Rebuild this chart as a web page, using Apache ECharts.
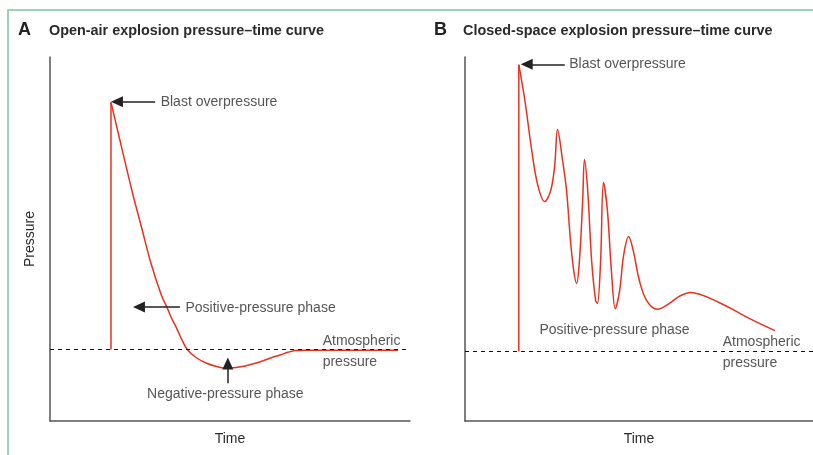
<!DOCTYPE html>
<html>
<head>
<meta charset="utf-8">
<script src="https://cdn.jsdelivr.net/npm/echarts@6/dist/echarts.min.js"></script>
<style>html,body{margin:0;padding:0;background:#fff;}#c{width:813px;height:455px;}</style>
</head>
<body>
<div id="c"></div>
<script>
// ---- Panel A: open-air explosion (time units, pressure relative to atmospheric = 0)
const aSpikeTime = [16.94, 16.94];
const aSpikePressure = [0, 68.58];
const aTime = [16.94, 18.89, 20.83, 23.06, 25.47, 27.94, 30.92, 32.42, 33.61, 35.19, 36.67, 38.14, 40.56, 43.53, 46.31, 49.08, 51.67, 54.17, 56.67, 59.25, 61.67, 63.89, 66.11, 68.06, 70.83, 96.67];
const aPressure = [68.58, 60.34, 52.10, 42.86, 33.70, 24.27, 15.11, 11.86, 9.01, 5.87, 2.62, -0.01, -2.23, -3.84, -4.73, -5.23, -5.01, -4.59, -3.90, -3.12, -2.23, -1.54, -0.79, -0.29, -0.23, -0.23];
const aNoteText = ['Blast overpressure', 'Positive-pressure phase', 'Negative-pressure phase', 'Atmospheric\npressure'];
const aNoteTime = [30.6, 37.5, 48.7, 75.6];
const aNotePressure = [68.5, 11.4, -12.5, -0.6];
const aArrows = [[29.2, 68.7, 18.6, 68.7], [36.1, 11.8, 24.7, 11.8], [49.4, -9.4, 49.4, -3.9]];

// ---- Panel B: closed-space explosion
const bSpikeTime = [15.0, 15.0];
const bSpikePressure = [0, 79.6];
const bTime = [15.0, 16.7, 18.6, 20.3, 22.2, 23.9, 25.0, 25.8, 27.2, 28.3, 29.4, 30.3, 31.1, 31.9, 32.8, 33.3, 34.2, 35.3, 36.4, 36.9, 37.8, 38.6, 39.7, 40.8, 41.9, 43.1, 44.2, 45.6, 46.9, 48.6, 50.6, 53.6, 56.9, 59.7, 62.8, 70.8, 79.2, 86.4];
const bPressure = [79.6, 69.6, 55.8, 46.1, 41.6, 44.7, 51.6, 61.6, 53.0, 44.7, 30.8, 22.5, 18.9, 25.2, 41.9, 53.3, 44.7, 25.2, 14.2, 13.3, 25.2, 46.9, 39.1, 22.5, 11.9, 16.9, 26.6, 31.9, 28.0, 19.7, 14.2, 11.7, 13.3, 15.3, 16.4, 13.6, 9.2, 5.8];
const bNoteText = ['Blast overpressure', 'Positive-pressure phase', 'Atmospheric\npressure'];
const bNoteTime = [28.9, 20.6, 71.7];
const bNotePressure = [79.6, 5.8, -0.3];
const bArrows = [[27.8, 79.7, 17.2, 79.7]];

const titles = [['A', 'Open-air explosion pressure–time curve'], ['B', 'Closed-space explosion pressure–time curve']];
const axisNames = { x: 'Time', y: 'Pressure' };

const RED = '#e8321f';
const FONT = '"Liberation Sans", Arial, sans-serif';
const TXT = '#2b2b2b';

function zip(xs, ys) { return xs.map((x, i) => [x, ys[i]]); }

function axisStyle() {
  return {
    axisLine: { show: true, onZero: false, lineStyle: { color: '#555', width: 1.5 } },
    axisTick: { show: false }, axisLabel: { show: false }, splitLine: { show: false }
  };
}

function notes(texts, ts, ps, centerIdx) {
  return texts.map((t, i) => ({
    value: [ts[i], ps[i]], name: t,
    label: i === centerIdx ? { position: 'inside', align: 'center' } : { position: 'right', distance: 0, align: 'left' }
  }));
}

function arrows(list) {
  return list.map(a => [{ coord: [a[0], a[1]] }, { coord: [a[2], a[3]] }]);
}

function panelSeries(g, spikeT, spikeP, t, p, smooth, noteData, arrowList) {
  return [
    { type: 'line', xAxisIndex: g, yAxisIndex: g, data: zip(spikeT, spikeP), showSymbol: false, symbol: 'none',
      lineStyle: { color: RED, width: 1.5 }, silent: true, z: 3 },
    { type: 'line', xAxisIndex: g, yAxisIndex: g, data: zip(t, p), smooth: smooth, showSymbol: false, symbol: 'none',
      lineStyle: { color: RED, width: 1.5 }, silent: true, z: 3,
      markLine: { silent: true, symbol: 'none', label: { show: false }, animation: false,
        lineStyle: { color: '#111', type: [4, 4], width: 1 }, emphasis: { disabled: true },
        data: [{ yAxis: 0 }] } },
    { type: 'line', xAxisIndex: g, yAxisIndex: g, data: [], silent: true, z: 4,
      markLine: { silent: true, symbol: ['none', 'triangle'], symbolSize: [11, 12], label: { show: false }, animation: false,
        lineStyle: { color: '#222', type: 'solid', width: 1.5 }, emphasis: { disabled: true },
        data: arrowList } },
    { type: 'scatter', xAxisIndex: g, yAxisIndex: g, data: noteData, symbolSize: 1, silent: true, z: 5,
      itemStyle: { color: 'rgba(0,0,0,0)' },
      label: { show: true, formatter: '{b}', color: TXT, fontFamily: FONT, fontSize: 14, lineHeight: 21 } }
  ];
}

const notesA = notes(aNoteText, aNoteTime, aNotePressure, 2);
const notesB = notes(bNoteText, bNoteTime, bNotePressure, -1);

const titleBold = { fontFamily: FONT, fontSize: 14.4, fontWeight: 'bold', color: '#2b2b2b' };
const letterBold = { fontFamily: FONT, fontSize: 18, fontWeight: 'bold', color: '#222' };
const nameStyle = { fontFamily: FONT, fontSize: 14, color: TXT };

const chart = echarts.init(document.getElementById('c'), null, { renderer: 'canvas' });
chart.setOption({
  animation: false,
  backgroundColor: '#fff',
  title: [
    { text: titles[0][0], left: 18, top: 21, padding: 0, textStyle: letterBold },
    { text: titles[0][1], left: 49, top: 24, padding: 0, textStyle: titleBold },
    { text: titles[1][0], left: 434, top: 21, padding: 0, textStyle: letterBold },
    { text: titles[1][1], left: 463, top: 24, padding: 0, textStyle: titleBold }
  ],
  graphic: [
    { type: 'polyline', silent: true, shape: { points: [[8, 455], [8, 10], [813, 10]] }, style: { stroke: '#7fc3a3', lineWidth: 1.5, fill: null } }
  ],
  grid: [
    { left: 50, top: 57, width: 360, height: 364 },
    { left: 465, top: 57, width: 349, height: 364 }
  ],
  xAxis: [
    Object.assign({ type: 'value', gridIndex: 0, min: 0, max: 100, name: axisNames.x, nameLocation: 'middle', nameGap: 11,
      nameTextStyle: nameStyle }, axisStyle()),
    Object.assign({ type: 'value', gridIndex: 1, min: 0, max: 97, name: axisNames.x, nameLocation: 'middle', nameGap: 11,
      nameTextStyle: nameStyle }, axisStyle())
  ],
  yAxis: [
    Object.assign({ type: 'value', gridIndex: 0, min: -19.85, max: 81.15, name: axisNames.y, nameLocation: 'middle', nameGap: 13,
      nameTextStyle: nameStyle }, axisStyle()),
    Object.assign({ type: 'value', gridIndex: 1, min: -19.28, max: 81.72 }, axisStyle())
  ],
  series: [].concat(
    panelSeries(0, aSpikeTime, aSpikePressure, aTime, aPressure, 0.3, notesA, arrows(aArrows)),
    panelSeries(1, bSpikeTime, bSpikePressure, bTime, bPressure, 0.35, notesB, arrows(bArrows))
  )
});
</script>
</body>
</html>
